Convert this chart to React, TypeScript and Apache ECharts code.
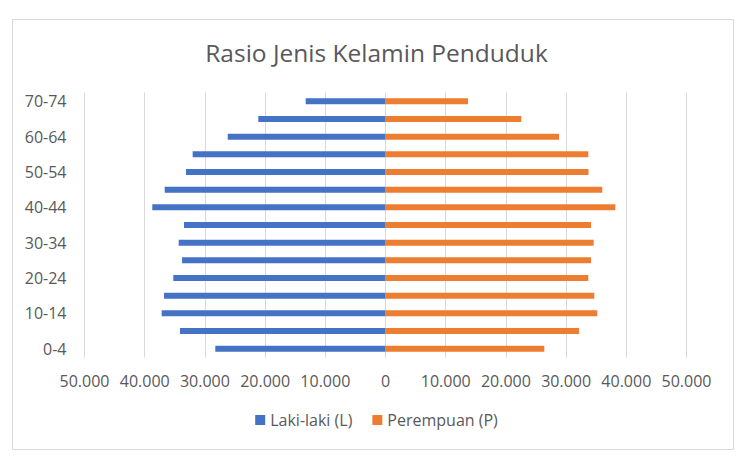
import React, { useEffect, useRef } from "react";
import * as echarts from "echarts";

const ageGroups = [
  "0-4", "5-9", "10-14", "15-19", "20-24", "25-29", "30-34", "35-39",
  "40-44", "45-49", "50-54", "55-59", "60-64", "65-69", "70-74",
];
const maleValues = [
  28270, 34140, 37180, 36790, 35250, 33800, 34350, 33470,
  38740, 36680, 33140, 32030, 26210, 21130, 13260,
];
const femaleValues = [
  26380, 32140, 35180, 34690, 33690, 34140, 34580, 34140,
  38180, 36010, 33720, 33690, 28820, 22560, 13700,
];
const titleText = "Rasio Jenis Kelamin Penduduk";
const maleName = "Laki-laki (L)";
const femaleName = "Perempuan (P)";

const fmt = (v: number) =>
  Math.abs(v)
    .toString()
    .replace(/\B(?=(\d{3})+(?!\d))/g, ".");

export default function App() {
  const ref = useRef<HTMLDivElement>(null);
  useEffect(() => {
    if (!ref.current) return;
    const chart = echarts.init(ref.current, undefined, { renderer: "svg" });
    const font = "'Open Sans', 'Noto Sans', sans-serif";
    chart.setOption({
      animation: false,
      backgroundColor: "#ffffff",
      textStyle: { fontFamily: font },
      title: {
        text: titleText,
        left: "center",
        top: 35,
        textStyle: { fontFamily: font, fontSize: 24.5, fontWeight: "normal", color: "#595959" },
      },
      graphic: [
        {
          type: "rect",
          shape: { x: 12.5, y: 19.5, width: 721, height: 430 },
          style: { fill: "none", stroke: "#d9d9d9", lineWidth: 1 },
          silent: true,
        },
      ],
      legend: {
        bottom: 42,
        left: "center",
        icon: "rect",
        itemWidth: 10,
        itemHeight: 10,
        itemGap: 20,
        textStyle: { fontFamily: font, fontSize: 16, color: "#595959" },
        data: [maleName, femaleName],
      },
      grid: { left: 84.5, right: 66.5, top: 92.5, bottom: 117.5, containLabel: false },
      xAxis: {
        type: "value",
        min: -50000,
        max: 50000,
        interval: 10000,
        axisLine: { show: false },
        axisTick: { show: false },
        splitLine: { lineStyle: { color: "#d9d9d9", width: 1 } },
        axisLabel: {
          formatter: (v: number) => fmt(v),
          fontFamily: font,
          fontSize: 16,
          color: "#595959",
          margin: 15,
        },
      },
      yAxis: {
        type: "category",
        data: ageGroups,
        axisLine: { show: false },
        axisTick: { show: false },
        axisLabel: {
          interval: 1,
          fontFamily: font,
          fontSize: 16,
          color: "#595959",
          margin: 18,
        },
      },
      series: [
        {
          name: maleName,
          type: "bar",
          stack: "total",
          barWidth: 6,
          itemStyle: { color: "#4472C4" },
          data: maleValues.map((v) => -v),
        },
        {
          name: femaleName,
          type: "bar",
          stack: "total",
          barWidth: 6,
          itemStyle: { color: "#ED7D31" },
          data: femaleValues,
        },
      ],
    });
    return () => chart.dispose();
  }, []);
  return (
    <div
      ref={ref}
      style={{ position: "fixed", left: 0, top: 0, width: 753, height: 475 }}
    />
  );
}
